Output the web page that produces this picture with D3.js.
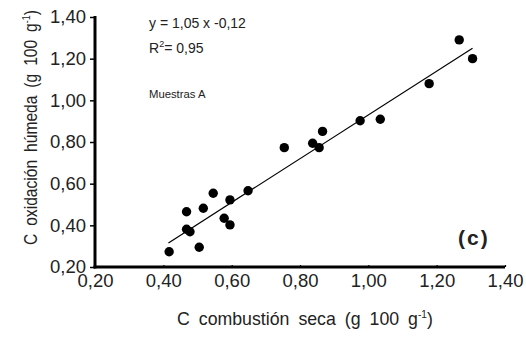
<!DOCTYPE html>
<html><head><meta charset="utf-8">
<script src="https://cdn.jsdelivr.net/npm/d3@7"></script>
<style>body{margin:0;background:#fff}svg{display:block}text{font-family:"Liberation Sans",Arial,sans-serif;fill:#222}</style>
</head><body>
<script>
const xs = [0.417,0.468,0.468,0.478,0.505,0.517,0.546,0.578,0.595,0.595,0.648,0.754,0.837,0.856,0.866,0.976,1.035,1.178,1.266,1.305];
const ys = [0.273,0.465,0.381,0.369,0.295,0.482,0.554,0.434,0.522,0.402,0.566,0.773,0.794,0.773,0.851,0.902,0.909,1.080,1.290,1.200];
const xTicks = [0.2,0.4,0.6,0.8,1.0,1.2,1.4];
const yTicks = [0.2,0.4,0.6,0.8,1.0,1.2,1.4];
const slope = 1.05, intercept = -0.12, fitRange = [0.415,1.305];

const W=526,H=337;
const svg=d3.select("body").append("svg").attr("width",W).attr("height",H);
const x=d3.scaleLinear().domain([0.2,1.4]).range([95,505]);
const y=d3.scaleLinear().domain([0.2,1.4]).range([267,17]);
const fmt=d=>d3.format(".2f")(d).replace(".",",");

// axes
const yAx=svg.append("g").attr("transform","translate(95,0)")
  .call(d3.axisLeft(y).tickValues(yTicks).tickFormat(fmt).tickSize(5).tickPadding(4));
yAx.select(".domain").attr("d",`M0,${y(1.4)-1}V${y(0.2)+1.5}`).attr("stroke-width",3).attr("stroke","#000");
yAx.selectAll(".tick line").attr("stroke-width",1.5).attr("stroke","#000");
yAx.selectAll(".tick text").attr("font-size",18.5).attr("font-family","Liberation Sans, Arial").attr("fill","#333");

const xAx=svg.append("g").attr("transform","translate(0,267)")
  .call(d3.axisBottom(x).tickValues(xTicks).tickFormat(fmt).tickSize(-2).tickPadding(7));
xAx.select(".domain").attr("d",`M${x(0.2)-1.5},0H${x(1.4)}`).attr("stroke-width",3).attr("stroke","#000");
xAx.selectAll(".tick line").attr("stroke-width",1.2).attr("stroke","#000");
xAx.selectAll(".tick text").attr("font-size",18.5).attr("font-family","Liberation Sans, Arial").attr("fill","#333");

// fit line
svg.append("line").attr("x1",x(fitRange[0])).attr("y1",y(slope*fitRange[0]+intercept))
  .attr("x2",x(fitRange[1])).attr("y2",y(slope*fitRange[1]+intercept))
  .attr("stroke","#000").attr("stroke-width",1.2);

// points
svg.selectAll("circle").data(xs).join("circle")
  .attr("cx",(d)=>x(d)).attr("cy",(d,i)=>y(ys[i])).attr("r",4.7).attr("fill","#000");

// annotations
svg.append("text").attr("x",149).attr("y",28).attr("font-size",14).text("y = 1,05 x -0,12");
const r2=svg.append("text").attr("x",149).attr("y",53).attr("font-size",14);
r2.append("tspan").text("R");
r2.append("tspan").attr("font-size",9).attr("dy",-6).text("2");
r2.append("tspan").attr("dy",6).text("= 0,95");
svg.append("text").attr("x",149).attr("y",98).attr("font-size",11.3).text("Muestras A");
svg.append("text").attr("x",458).attr("y",245).attr("font-size",21).attr("font-weight","bold").attr("letter-spacing",2).attr("fill","#111").text("(c)");

// axis titles, fitted to the reference extents
function fit(sel, target){
  const w=sel.node().getBBox().width;
  sel.attr("data-w",w);
  return target/w;
}
const xt=svg.append("text").attr("font-size",17.5).attr("word-spacing",4);
xt.append("tspan").text("C combustión seca (g 100 g");
xt.append("tspan").attr("font-size",10).attr("dy",-7).text("-1");
xt.append("tspan").attr("dy",7).text(")");
const sx=fit(xt,256);
xt.attr("transform",`translate(177,325) scale(${sx},1)`);

const yt=svg.append("text").attr("font-size",17.5).attr("word-spacing",4);
yt.append("tspan").text("C oxidación húmeda (g 100 g");
yt.append("tspan").attr("font-size",10).attr("dy",-7).text("-1");
yt.append("tspan").attr("dy",7).text(")");
const sy=fit(yt,235);
yt.attr("transform",`translate(37,245) rotate(-90) scale(${sy},1)`);
</script>
</body></html>
